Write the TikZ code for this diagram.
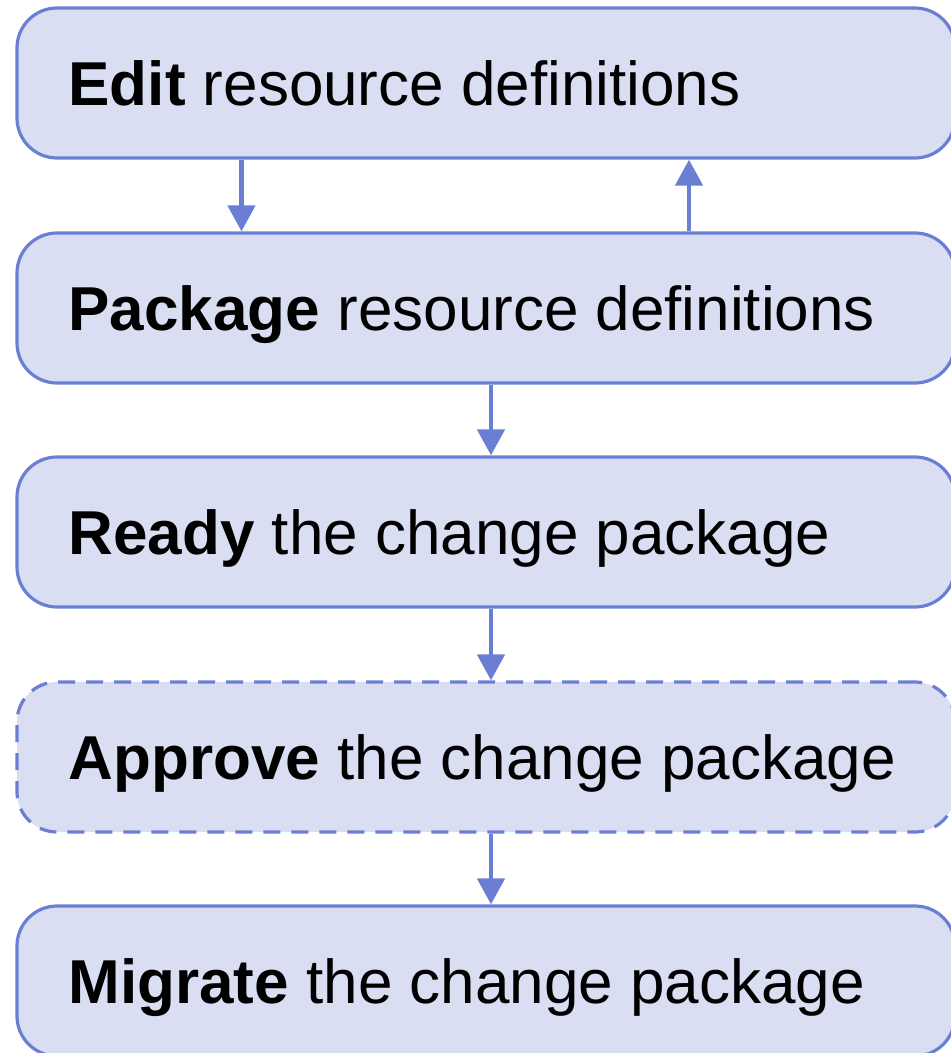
\documentclass[tikz,border=0pt]{standalone}
\usepackage{fontspec}
\setmainfont{Liberation Sans}
\usetikzlibrary{arrows.meta}
\definecolor{boxfill}{HTML}{D9DEF2}
\definecolor{boxline}{HTML}{6A7FD4}
\tikzset{
  stepbox/.style={draw=boxline, fill=boxfill, line width=3.2pt, rectangle,
    rounded corners=40pt, minimum width=938pt, minimum height=150pt, inner sep=0pt},
  dashedbox/.style={stepbox, dash pattern=on 17pt off 11pt},
  label text/.style={anchor=base west, inner sep=0pt, font=\fontsize{62pt}{74pt}\selectfont, text=black},
  arr/.style={draw=boxline, line width=4.8pt, -{Triangle[length=26pt,width=27pt]}}
}
\begin{document}
\begin{tikzpicture}[x=1pt,y=-1pt]
\useasboundingbox (0,0) rectangle (951,1053);
\node[stepbox] (b1) at (486,83) {};
\node[stepbox] (b2) at (486,308) {};
\node[stepbox] (b3) at (486,532) {};
\node[dashedbox] (b4) at (486,757) {};
\node[stepbox] (b5) at (486,981) {};
\node[label text] (t1) at ([xshift=53pt,yshift=-22pt]b1.west) {\textbf{Edit} resource definitions};
\node[label text] (t2) at ([xshift=53pt,yshift=-22pt]b2.west) {\textbf{Package} resource definitions};
\node[label text] (t3) at ([xshift=53pt,yshift=-22pt]b3.west) {\textbf{Ready} the change package};
\node[label text] (t4) at ([xshift=53pt,yshift=-22pt]b4.west) {\textbf{Approve} the change package};
\node[label text] (t5) at ([xshift=53pt,yshift=-22pt]b5.west) {\textbf{Migrate} the change package};
\draw[arr] ([xshift=-244.5pt]b1.south) -- ([xshift=-244.5pt]b2.north);
\draw[arr] ([xshift=203pt]b2.north) -- ([xshift=203pt]b1.south);
\draw[arr] ([xshift=5pt]b2.south) -- ([xshift=5pt]b3.north);
\draw[arr] ([xshift=5pt]b3.south) -- ([xshift=5pt]b4.north);
\draw[arr] ([xshift=5pt]b4.south) -- ([xshift=5pt]b5.north);
\end{tikzpicture}
\end{document}
